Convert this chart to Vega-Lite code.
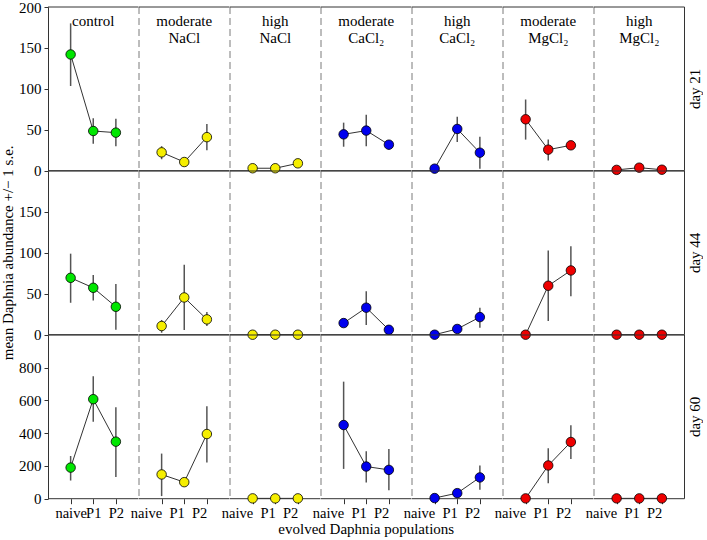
{
  "$schema": "https://vega.github.io/schema/vega-lite/v6.json",
  "padding": {"left": 0, "top": 0, "right": 0, "bottom": 0},
  "data": {"values": [
      {"day": "day 21", "treatment": "control", "pop": "naive", "mean": 142, "lo": 103.5, "hi": 180},
      {"day": "day 21", "treatment": "control", "pop": "P1", "mean": 48.5, "lo": 33, "hi": 64},
      {"day": "day 21", "treatment": "control", "pop": "P2", "mean": 46.5, "lo": 30, "hi": 63.5},
      {"day": "day 21", "treatment": "moderate NaCl", "pop": "naive", "mean": 22.4, "lo": 14, "hi": 30},
      {"day": "day 21", "treatment": "moderate NaCl", "pop": "P1", "mean": 10.6, "lo": 6, "hi": 15},
      {"day": "day 21", "treatment": "moderate NaCl", "pop": "P2", "mean": 41, "lo": 25, "hi": 57},
      {"day": "day 21", "treatment": "high NaCl", "pop": "naive", "mean": 3, "lo": 1, "hi": 5},
      {"day": "day 21", "treatment": "high NaCl", "pop": "P1", "mean": 3, "lo": 1, "hi": 5},
      {"day": "day 21", "treatment": "high NaCl", "pop": "P2", "mean": 9, "lo": 5, "hi": 13},
      {"day": "day 21", "treatment": "moderate CaCl2", "pop": "naive", "mean": 44.4, "lo": 29.3, "hi": 58.7},
      {"day": "day 21", "treatment": "moderate CaCl2", "pop": "P1", "mean": 49, "lo": 30, "hi": 68.5},
      {"day": "day 21", "treatment": "moderate CaCl2", "pop": "P2", "mean": 31.8, "lo": 26, "hi": 37},
      {"day": "day 21", "treatment": "high CaCl2", "pop": "naive", "mean": 2.5, "lo": 0, "hi": 5},
      {"day": "day 21", "treatment": "high CaCl2", "pop": "P1", "mean": 51, "lo": 35, "hi": 66},
      {"day": "day 21", "treatment": "high CaCl2", "pop": "P2", "mean": 22, "lo": 2.5, "hi": 41.5},
      {"day": "day 21", "treatment": "moderate MgCl2", "pop": "naive", "mean": 62.8, "lo": 38, "hi": 87},
      {"day": "day 21", "treatment": "moderate MgCl2", "pop": "P1", "mean": 25.7, "lo": 12.6, "hi": 38},
      {"day": "day 21", "treatment": "moderate MgCl2", "pop": "P2", "mean": 31, "lo": 27, "hi": 35},
      {"day": "day 21", "treatment": "high MgCl2", "pop": "naive", "mean": 1, "lo": 0, "hi": 2},
      {"day": "day 21", "treatment": "high MgCl2", "pop": "P1", "mean": 3.7, "lo": 1, "hi": 6},
      {"day": "day 21", "treatment": "high MgCl2", "pop": "P2", "mean": 1.2, "lo": 0, "hi": 2.5},
      {"day": "day 44", "treatment": "control", "pop": "naive", "mean": 69.5, "lo": 39, "hi": 99},
      {"day": "day 44", "treatment": "control", "pop": "P1", "mean": 57.3, "lo": 41.9, "hi": 72.8},
      {"day": "day 44", "treatment": "control", "pop": "P2", "mean": 34.1, "lo": 6, "hi": 62},
      {"day": "day 44", "treatment": "moderate NaCl", "pop": "naive", "mean": 10.6, "lo": 2.4, "hi": 18},
      {"day": "day 44", "treatment": "moderate NaCl", "pop": "P1", "mean": 45.5, "lo": 5.7, "hi": 85.4},
      {"day": "day 44", "treatment": "moderate NaCl", "pop": "P2", "mean": 18.7, "lo": 10.6, "hi": 27.6},
      {"day": "day 44", "treatment": "high NaCl", "pop": "naive", "mean": 0, "lo": 0, "hi": 0},
      {"day": "day 44", "treatment": "high NaCl", "pop": "P1", "mean": 0, "lo": 0, "hi": 0},
      {"day": "day 44", "treatment": "high NaCl", "pop": "P2", "mean": 0, "lo": 0, "hi": 0},
      {"day": "day 44", "treatment": "moderate CaCl2", "pop": "naive", "mean": 14.2, "lo": 10, "hi": 18},
      {"day": "day 44", "treatment": "moderate CaCl2", "pop": "P1", "mean": 33, "lo": 11.8, "hi": 53},
      {"day": "day 44", "treatment": "moderate CaCl2", "pop": "P2", "mean": 6, "lo": 3, "hi": 9},
      {"day": "day 44", "treatment": "high CaCl2", "pop": "naive", "mean": 0, "lo": 0, "hi": 0},
      {"day": "day 44", "treatment": "high CaCl2", "pop": "P1", "mean": 7, "lo": 3, "hi": 11},
      {"day": "day 44", "treatment": "high CaCl2", "pop": "P2", "mean": 21.5, "lo": 8.5, "hi": 33},
      {"day": "day 44", "treatment": "moderate MgCl2", "pop": "naive", "mean": 0, "lo": 0, "hi": 0},
      {"day": "day 44", "treatment": "moderate MgCl2", "pop": "P1", "mean": 59.8, "lo": 16.7, "hi": 102.8},
      {"day": "day 44", "treatment": "moderate MgCl2", "pop": "P2", "mean": 78.5, "lo": 47, "hi": 108},
      {"day": "day 44", "treatment": "high MgCl2", "pop": "naive", "mean": 0, "lo": 0, "hi": 0},
      {"day": "day 44", "treatment": "high MgCl2", "pop": "P1", "mean": 0, "lo": 0, "hi": 0},
      {"day": "day 44", "treatment": "high MgCl2", "pop": "P2", "mean": 0, "lo": 0, "hi": 0},
      {"day": "day 60", "treatment": "control", "pop": "naive", "mean": 190, "lo": 111, "hi": 261},
      {"day": "day 60", "treatment": "control", "pop": "P1", "mean": 608, "lo": 470, "hi": 748},
      {"day": "day 60", "treatment": "control", "pop": "P2", "mean": 348.5, "lo": 132, "hi": 559},
      {"day": "day 60", "treatment": "moderate NaCl", "pop": "naive", "mean": 148, "lo": 16, "hi": 275.6},
      {"day": "day 60", "treatment": "moderate NaCl", "pop": "P1", "mean": 101, "lo": 80, "hi": 125},
      {"day": "day 60", "treatment": "moderate NaCl", "pop": "P2", "mean": 395, "lo": 221, "hi": 565},
      {"day": "day 60", "treatment": "high NaCl", "pop": "naive", "mean": 2, "lo": 0, "hi": 4},
      {"day": "day 60", "treatment": "high NaCl", "pop": "P1", "mean": 2, "lo": 0, "hi": 4},
      {"day": "day 60", "treatment": "high NaCl", "pop": "P2", "mean": 2, "lo": 0, "hi": 4},
      {"day": "day 60", "treatment": "moderate CaCl2", "pop": "naive", "mean": 450, "lo": 182, "hi": 715},
      {"day": "day 60", "treatment": "moderate CaCl2", "pop": "P1", "mean": 196.5, "lo": 99, "hi": 290},
      {"day": "day 60", "treatment": "moderate CaCl2", "pop": "P2", "mean": 176, "lo": 51, "hi": 304},
      {"day": "day 60", "treatment": "high CaCl2", "pop": "naive", "mean": 4, "lo": 0, "hi": 8},
      {"day": "day 60", "treatment": "high CaCl2", "pop": "P1", "mean": 34, "lo": 10, "hi": 58},
      {"day": "day 60", "treatment": "high CaCl2", "pop": "P2", "mean": 130, "lo": 55, "hi": 203},
      {"day": "day 60", "treatment": "moderate MgCl2", "pop": "naive", "mean": 2, "lo": 0, "hi": 4},
      {"day": "day 60", "treatment": "moderate MgCl2", "pop": "P1", "mean": 203, "lo": 95, "hi": 308},
      {"day": "day 60", "treatment": "moderate MgCl2", "pop": "P2", "mean": 346.5, "lo": 243, "hi": 448},
      {"day": "day 60", "treatment": "high MgCl2", "pop": "naive", "mean": 2, "lo": 0, "hi": 4},
      {"day": "day 60", "treatment": "high MgCl2", "pop": "P1", "mean": 2, "lo": 0, "hi": 4},
      {"day": "day 60", "treatment": "high MgCl2", "pop": "P2", "mean": 2, "lo": 0, "hi": 4}
  ]},
  "columns": 7,
  "spacing": 0,
  "bounds": "flush",
  "concat": [
    {"width": 90.5, "height": 163.7, "transform": [{"filter": "datum.day == 'day 21' && datum.treatment == 'control'"}], "layer": [
      {"mark": {"type": "rule", "color": "#555", "strokeWidth": 1.5}, "encoding": {"x": {"field": "pop", "type": "nominal", "scale": {"type": "point", "padding": 0, "domain": ["left", "naive", "P1", "P2", "right"]}, "axis": null}, "y": {"field": "lo", "type": "quantitative", "scale": {"domain": [0, 200], "nice": false}, "axis": {"values": [0, 50, 100, 150, 200]}}, "y2": {"field": "hi"}}},
      {"mark": {"type": "line", "color": "#333", "strokeWidth": 1}, "encoding": {"x": {"field": "pop", "type": "nominal", "axis": null}, "y": {"field": "mean", "type": "quantitative"}}},
      {"data": {"values": [{}]}, "mark": {"type": "rule", "color": "#333", "strokeWidth": 1}, "encoding": {"y": {"datum": 0, "type": "quantitative"}}},
      {"data": {"values": [{}]}, "mark": {"type": "rule", "color": "#333", "strokeWidth": 1}, "encoding": {"y": {"datum": 200, "type": "quantitative"}}},
      {"mark": {"type": "circle", "size": 90, "opacity": 1, "fill": "#00e600", "stroke": "#000", "strokeWidth": 0.8}, "encoding": {"x": {"field": "pop", "type": "nominal", "axis": null}, "y": {"field": "mean", "type": "quantitative"}}},
      {"data": {"values": [{}]}, "mark": {"type": "text", "text": ["control"], "baseline": "top", "dy": 6.5, "lineHeight": 17.5, "fontSize": 15, "font": "Liberation Serif", "color": "#000"}, "encoding": {"x": {"datum": "P1", "type": "nominal", "axis": null}, "y": {"datum": 200, "type": "quantitative"}}}
    ]},
    {"width": 90.5, "height": 163.7, "transform": [{"filter": "datum.day == 'day 21' && datum.treatment == 'moderate NaCl'"}], "layer": [
      {"data": {"values": [{}]}, "mark": {"type": "rule", "color": "#7a7a7a", "strokeDash": [7, 4], "strokeWidth": 1}, "encoding": {"x": {"datum": "left", "type": "nominal", "scale": {"type": "point", "padding": 0, "domain": ["left", "naive", "P1", "P2", "right"]}, "axis": null}}},
      {"mark": {"type": "rule", "color": "#555", "strokeWidth": 1.5}, "encoding": {"x": {"field": "pop", "type": "nominal", "axis": null}, "y": {"field": "lo", "type": "quantitative", "scale": {"domain": [0, 200], "nice": false}, "axis": null}, "y2": {"field": "hi"}}},
      {"mark": {"type": "line", "color": "#333", "strokeWidth": 1}, "encoding": {"x": {"field": "pop", "type": "nominal", "axis": null}, "y": {"field": "mean", "type": "quantitative", "axis": null}}},
      {"data": {"values": [{}]}, "mark": {"type": "rule", "color": "#333", "strokeWidth": 1}, "encoding": {"y": {"datum": 0, "type": "quantitative", "axis": null}}},
      {"data": {"values": [{}]}, "mark": {"type": "rule", "color": "#333", "strokeWidth": 1}, "encoding": {"y": {"datum": 200, "type": "quantitative", "axis": null}}},
      {"mark": {"type": "circle", "size": 90, "opacity": 1, "fill": "#f5ee00", "stroke": "#000", "strokeWidth": 0.8}, "encoding": {"x": {"field": "pop", "type": "nominal", "axis": null}, "y": {"field": "mean", "type": "quantitative", "axis": null}}},
      {"data": {"values": [{}]}, "mark": {"type": "text", "text": ["moderate", "NaCl"], "baseline": "top", "dy": 6.5, "lineHeight": 17.5, "fontSize": 15, "font": "Liberation Serif", "color": "#000"}, "encoding": {"x": {"datum": "P1", "type": "nominal", "axis": null}, "y": {"datum": 200, "type": "quantitative", "axis": null}}}
    ]},
    {"width": 90.5, "height": 163.7, "transform": [{"filter": "datum.day == 'day 21' && datum.treatment == 'high NaCl'"}], "layer": [
      {"data": {"values": [{}]}, "mark": {"type": "rule", "color": "#7a7a7a", "strokeDash": [7, 4], "strokeWidth": 1}, "encoding": {"x": {"datum": "left", "type": "nominal", "scale": {"type": "point", "padding": 0, "domain": ["left", "naive", "P1", "P2", "right"]}, "axis": null}}},
      {"mark": {"type": "rule", "color": "#555", "strokeWidth": 1.5}, "encoding": {"x": {"field": "pop", "type": "nominal", "axis": null}, "y": {"field": "lo", "type": "quantitative", "scale": {"domain": [0, 200], "nice": false}, "axis": null}, "y2": {"field": "hi"}}},
      {"mark": {"type": "line", "color": "#333", "strokeWidth": 1}, "encoding": {"x": {"field": "pop", "type": "nominal", "axis": null}, "y": {"field": "mean", "type": "quantitative", "axis": null}}},
      {"data": {"values": [{}]}, "mark": {"type": "rule", "color": "#333", "strokeWidth": 1}, "encoding": {"y": {"datum": 0, "type": "quantitative", "axis": null}}},
      {"data": {"values": [{}]}, "mark": {"type": "rule", "color": "#333", "strokeWidth": 1}, "encoding": {"y": {"datum": 200, "type": "quantitative", "axis": null}}},
      {"mark": {"type": "circle", "size": 90, "opacity": 1, "fill": "#f5ee00", "stroke": "#000", "strokeWidth": 0.8}, "encoding": {"x": {"field": "pop", "type": "nominal", "axis": null}, "y": {"field": "mean", "type": "quantitative", "axis": null}}},
      {"data": {"values": [{}]}, "mark": {"type": "text", "text": ["high", "NaCl"], "baseline": "top", "dy": 6.5, "lineHeight": 17.5, "fontSize": 15, "font": "Liberation Serif", "color": "#000"}, "encoding": {"x": {"datum": "P1", "type": "nominal", "axis": null}, "y": {"datum": 200, "type": "quantitative", "axis": null}}}
    ]},
    {"width": 90.5, "height": 163.7, "transform": [{"filter": "datum.day == 'day 21' && datum.treatment == 'moderate CaCl2'"}], "layer": [
      {"data": {"values": [{}]}, "mark": {"type": "rule", "color": "#7a7a7a", "strokeDash": [7, 4], "strokeWidth": 1}, "encoding": {"x": {"datum": "left", "type": "nominal", "scale": {"type": "point", "padding": 0, "domain": ["left", "naive", "P1", "P2", "right"]}, "axis": null}}},
      {"mark": {"type": "rule", "color": "#555", "strokeWidth": 1.5}, "encoding": {"x": {"field": "pop", "type": "nominal", "axis": null}, "y": {"field": "lo", "type": "quantitative", "scale": {"domain": [0, 200], "nice": false}, "axis": null}, "y2": {"field": "hi"}}},
      {"mark": {"type": "line", "color": "#333", "strokeWidth": 1}, "encoding": {"x": {"field": "pop", "type": "nominal", "axis": null}, "y": {"field": "mean", "type": "quantitative", "axis": null}}},
      {"data": {"values": [{}]}, "mark": {"type": "rule", "color": "#333", "strokeWidth": 1}, "encoding": {"y": {"datum": 0, "type": "quantitative", "axis": null}}},
      {"data": {"values": [{}]}, "mark": {"type": "rule", "color": "#333", "strokeWidth": 1}, "encoding": {"y": {"datum": 200, "type": "quantitative", "axis": null}}},
      {"mark": {"type": "circle", "size": 90, "opacity": 1, "fill": "#0000ee", "stroke": "#000", "strokeWidth": 0.8}, "encoding": {"x": {"field": "pop", "type": "nominal", "axis": null}, "y": {"field": "mean", "type": "quantitative", "axis": null}}},
      {"data": {"values": [{}]}, "mark": {"type": "text", "text": ["moderate", "CaCl₂"], "baseline": "top", "dy": 6.5, "lineHeight": 17.5, "fontSize": 15, "font": "Liberation Serif", "color": "#000"}, "encoding": {"x": {"datum": "P1", "type": "nominal", "axis": null}, "y": {"datum": 200, "type": "quantitative", "axis": null}}}
    ]},
    {"width": 90.5, "height": 163.7, "transform": [{"filter": "datum.day == 'day 21' && datum.treatment == 'high CaCl2'"}], "layer": [
      {"data": {"values": [{}]}, "mark": {"type": "rule", "color": "#7a7a7a", "strokeDash": [7, 4], "strokeWidth": 1}, "encoding": {"x": {"datum": "left", "type": "nominal", "scale": {"type": "point", "padding": 0, "domain": ["left", "naive", "P1", "P2", "right"]}, "axis": null}}},
      {"mark": {"type": "rule", "color": "#555", "strokeWidth": 1.5}, "encoding": {"x": {"field": "pop", "type": "nominal", "axis": null}, "y": {"field": "lo", "type": "quantitative", "scale": {"domain": [0, 200], "nice": false}, "axis": null}, "y2": {"field": "hi"}}},
      {"mark": {"type": "line", "color": "#333", "strokeWidth": 1}, "encoding": {"x": {"field": "pop", "type": "nominal", "axis": null}, "y": {"field": "mean", "type": "quantitative", "axis": null}}},
      {"data": {"values": [{}]}, "mark": {"type": "rule", "color": "#333", "strokeWidth": 1}, "encoding": {"y": {"datum": 0, "type": "quantitative", "axis": null}}},
      {"data": {"values": [{}]}, "mark": {"type": "rule", "color": "#333", "strokeWidth": 1}, "encoding": {"y": {"datum": 200, "type": "quantitative", "axis": null}}},
      {"mark": {"type": "circle", "size": 90, "opacity": 1, "fill": "#0000ee", "stroke": "#000", "strokeWidth": 0.8}, "encoding": {"x": {"field": "pop", "type": "nominal", "axis": null}, "y": {"field": "mean", "type": "quantitative", "axis": null}}},
      {"data": {"values": [{}]}, "mark": {"type": "text", "text": ["high", "CaCl₂"], "baseline": "top", "dy": 6.5, "lineHeight": 17.5, "fontSize": 15, "font": "Liberation Serif", "color": "#000"}, "encoding": {"x": {"datum": "P1", "type": "nominal", "axis": null}, "y": {"datum": 200, "type": "quantitative", "axis": null}}}
    ]},
    {"width": 90.5, "height": 163.7, "transform": [{"filter": "datum.day == 'day 21' && datum.treatment == 'moderate MgCl2'"}], "layer": [
      {"data": {"values": [{}]}, "mark": {"type": "rule", "color": "#7a7a7a", "strokeDash": [7, 4], "strokeWidth": 1}, "encoding": {"x": {"datum": "left", "type": "nominal", "scale": {"type": "point", "padding": 0, "domain": ["left", "naive", "P1", "P2", "right"]}, "axis": null}}},
      {"mark": {"type": "rule", "color": "#555", "strokeWidth": 1.5}, "encoding": {"x": {"field": "pop", "type": "nominal", "axis": null}, "y": {"field": "lo", "type": "quantitative", "scale": {"domain": [0, 200], "nice": false}, "axis": null}, "y2": {"field": "hi"}}},
      {"mark": {"type": "line", "color": "#333", "strokeWidth": 1}, "encoding": {"x": {"field": "pop", "type": "nominal", "axis": null}, "y": {"field": "mean", "type": "quantitative", "axis": null}}},
      {"data": {"values": [{}]}, "mark": {"type": "rule", "color": "#333", "strokeWidth": 1}, "encoding": {"y": {"datum": 0, "type": "quantitative", "axis": null}}},
      {"data": {"values": [{}]}, "mark": {"type": "rule", "color": "#333", "strokeWidth": 1}, "encoding": {"y": {"datum": 200, "type": "quantitative", "axis": null}}},
      {"mark": {"type": "circle", "size": 90, "opacity": 1, "fill": "#ee0000", "stroke": "#000", "strokeWidth": 0.8}, "encoding": {"x": {"field": "pop", "type": "nominal", "axis": null}, "y": {"field": "mean", "type": "quantitative", "axis": null}}},
      {"data": {"values": [{}]}, "mark": {"type": "text", "text": ["moderate", "MgCl₂"], "baseline": "top", "dy": 6.5, "lineHeight": 17.5, "fontSize": 15, "font": "Liberation Serif", "color": "#000"}, "encoding": {"x": {"datum": "P1", "type": "nominal", "axis": null}, "y": {"datum": 200, "type": "quantitative", "axis": null}}}
    ]},
    {"width": 90.5, "height": 163.7, "transform": [{"filter": "datum.day == 'day 21' && datum.treatment == 'high MgCl2'"}],
     "title": {"text": "day 21", "orient": "right", "angle": -90, "anchor": "middle", "font": "Liberation Serif", "fontSize": 15, "fontWeight": "normal", "color": "#000", "offset": -12},
     "layer": [
      {"data": {"values": [{}]}, "mark": {"type": "rule", "color": "#7a7a7a", "strokeDash": [7, 4], "strokeWidth": 1}, "encoding": {"x": {"datum": "left", "type": "nominal", "scale": {"type": "point", "padding": 0, "domain": ["left", "naive", "P1", "P2", "right"]}, "axis": null}}},
      {"data": {"values": [{}]}, "mark": {"type": "rule", "color": "#333", "strokeWidth": 1}, "encoding": {"x": {"datum": "right", "type": "nominal", "axis": null}}},
      {"mark": {"type": "rule", "color": "#555", "strokeWidth": 1.5}, "encoding": {"x": {"field": "pop", "type": "nominal", "axis": null}, "y": {"field": "lo", "type": "quantitative", "scale": {"domain": [0, 200], "nice": false}, "axis": null}, "y2": {"field": "hi"}}},
      {"mark": {"type": "line", "color": "#333", "strokeWidth": 1}, "encoding": {"x": {"field": "pop", "type": "nominal", "axis": null}, "y": {"field": "mean", "type": "quantitative", "axis": null}}},
      {"data": {"values": [{}]}, "mark": {"type": "rule", "color": "#333", "strokeWidth": 1}, "encoding": {"y": {"datum": 0, "type": "quantitative", "axis": null}}},
      {"data": {"values": [{}]}, "mark": {"type": "rule", "color": "#333", "strokeWidth": 1}, "encoding": {"y": {"datum": 200, "type": "quantitative", "axis": null}}},
      {"mark": {"type": "circle", "size": 90, "opacity": 1, "fill": "#ee0000", "stroke": "#000", "strokeWidth": 0.8}, "encoding": {"x": {"field": "pop", "type": "nominal", "axis": null}, "y": {"field": "mean", "type": "quantitative", "axis": null}}},
      {"data": {"values": [{}]}, "mark": {"type": "text", "text": ["high", "MgCl₂"], "baseline": "top", "dy": 6.5, "lineHeight": 17.5, "fontSize": 15, "font": "Liberation Serif", "color": "#000"}, "encoding": {"x": {"datum": "P1", "type": "nominal", "axis": null}, "y": {"datum": 200, "type": "quantitative", "axis": null}}}
    ]},

    {"width": 90.5, "height": 163.7, "transform": [{"filter": "datum.day == 'day 44' && datum.treatment == 'control'"}],
     "title": {"text": "mean Daphnia abundance +/− 1 s.e.", "orient": "left", "anchor": "middle", "font": "Liberation Serif", "fontSize": 15, "fontWeight": "normal", "color": "#000", "offset": 3},
     "layer": [
      {"mark": {"type": "rule", "color": "#555", "strokeWidth": 1.5}, "encoding": {"x": {"field": "pop", "type": "nominal", "scale": {"type": "point", "padding": 0, "domain": ["left", "naive", "P1", "P2", "right"]}, "axis": null}, "y": {"field": "lo", "type": "quantitative", "scale": {"domain": [0, 200], "nice": false}, "axis": {"values": [0, 50, 100, 150]}}, "y2": {"field": "hi"}}},
      {"mark": {"type": "line", "color": "#333", "strokeWidth": 1}, "encoding": {"x": {"field": "pop", "type": "nominal", "axis": null}, "y": {"field": "mean", "type": "quantitative"}}},
      {"data": {"values": [{}]}, "mark": {"type": "rule", "color": "#333", "strokeWidth": 1}, "encoding": {"y": {"datum": 0, "type": "quantitative"}}},
      {"data": {"values": [{}]}, "mark": {"type": "rule", "color": "#333", "strokeWidth": 1}, "encoding": {"y": {"datum": 200, "type": "quantitative"}}},
      {"mark": {"type": "circle", "size": 90, "opacity": 1, "fill": "#00e600", "stroke": "#000", "strokeWidth": 0.8}, "encoding": {"x": {"field": "pop", "type": "nominal", "axis": null}, "y": {"field": "mean", "type": "quantitative"}}}
    ]},
    {"width": 90.5, "height": 163.7, "transform": [{"filter": "datum.day == 'day 44' && datum.treatment == 'moderate NaCl'"}], "layer": [
      {"data": {"values": [{}]}, "mark": {"type": "rule", "color": "#7a7a7a", "strokeDash": [7, 4], "strokeWidth": 1}, "encoding": {"x": {"datum": "left", "type": "nominal", "scale": {"type": "point", "padding": 0, "domain": ["left", "naive", "P1", "P2", "right"]}, "axis": null}}},
      {"mark": {"type": "rule", "color": "#555", "strokeWidth": 1.5}, "encoding": {"x": {"field": "pop", "type": "nominal", "axis": null}, "y": {"field": "lo", "type": "quantitative", "scale": {"domain": [0, 200], "nice": false}, "axis": null}, "y2": {"field": "hi"}}},
      {"mark": {"type": "line", "color": "#333", "strokeWidth": 1}, "encoding": {"x": {"field": "pop", "type": "nominal", "axis": null}, "y": {"field": "mean", "type": "quantitative", "axis": null}}},
      {"data": {"values": [{}]}, "mark": {"type": "rule", "color": "#333", "strokeWidth": 1}, "encoding": {"y": {"datum": 0, "type": "quantitative", "axis": null}}},
      {"data": {"values": [{}]}, "mark": {"type": "rule", "color": "#333", "strokeWidth": 1}, "encoding": {"y": {"datum": 200, "type": "quantitative", "axis": null}}},
      {"mark": {"type": "circle", "size": 90, "opacity": 1, "fill": "#f5ee00", "stroke": "#000", "strokeWidth": 0.8}, "encoding": {"x": {"field": "pop", "type": "nominal", "axis": null}, "y": {"field": "mean", "type": "quantitative", "axis": null}}}
    ]},
    {"width": 90.5, "height": 163.7, "transform": [{"filter": "datum.day == 'day 44' && datum.treatment == 'high NaCl'"}], "layer": [
      {"data": {"values": [{}]}, "mark": {"type": "rule", "color": "#7a7a7a", "strokeDash": [7, 4], "strokeWidth": 1}, "encoding": {"x": {"datum": "left", "type": "nominal", "scale": {"type": "point", "padding": 0, "domain": ["left", "naive", "P1", "P2", "right"]}, "axis": null}}},
      {"mark": {"type": "rule", "color": "#555", "strokeWidth": 1.5}, "encoding": {"x": {"field": "pop", "type": "nominal", "axis": null}, "y": {"field": "lo", "type": "quantitative", "scale": {"domain": [0, 200], "nice": false}, "axis": null}, "y2": {"field": "hi"}}},
      {"mark": {"type": "line", "color": "#333", "strokeWidth": 1}, "encoding": {"x": {"field": "pop", "type": "nominal", "axis": null}, "y": {"field": "mean", "type": "quantitative", "axis": null}}},
      {"data": {"values": [{}]}, "mark": {"type": "rule", "color": "#333", "strokeWidth": 1}, "encoding": {"y": {"datum": 0, "type": "quantitative", "axis": null}}},
      {"data": {"values": [{}]}, "mark": {"type": "rule", "color": "#333", "strokeWidth": 1}, "encoding": {"y": {"datum": 200, "type": "quantitative", "axis": null}}},
      {"mark": {"type": "circle", "size": 90, "opacity": 1, "fill": "#f5ee00", "stroke": "#000", "strokeWidth": 0.8}, "encoding": {"x": {"field": "pop", "type": "nominal", "axis": null}, "y": {"field": "mean", "type": "quantitative", "axis": null}}}
    ]},
    {"width": 90.5, "height": 163.7, "transform": [{"filter": "datum.day == 'day 44' && datum.treatment == 'moderate CaCl2'"}], "layer": [
      {"data": {"values": [{}]}, "mark": {"type": "rule", "color": "#7a7a7a", "strokeDash": [7, 4], "strokeWidth": 1}, "encoding": {"x": {"datum": "left", "type": "nominal", "scale": {"type": "point", "padding": 0, "domain": ["left", "naive", "P1", "P2", "right"]}, "axis": null}}},
      {"mark": {"type": "rule", "color": "#555", "strokeWidth": 1.5}, "encoding": {"x": {"field": "pop", "type": "nominal", "axis": null}, "y": {"field": "lo", "type": "quantitative", "scale": {"domain": [0, 200], "nice": false}, "axis": null}, "y2": {"field": "hi"}}},
      {"mark": {"type": "line", "color": "#333", "strokeWidth": 1}, "encoding": {"x": {"field": "pop", "type": "nominal", "axis": null}, "y": {"field": "mean", "type": "quantitative", "axis": null}}},
      {"data": {"values": [{}]}, "mark": {"type": "rule", "color": "#333", "strokeWidth": 1}, "encoding": {"y": {"datum": 0, "type": "quantitative", "axis": null}}},
      {"data": {"values": [{}]}, "mark": {"type": "rule", "color": "#333", "strokeWidth": 1}, "encoding": {"y": {"datum": 200, "type": "quantitative", "axis": null}}},
      {"mark": {"type": "circle", "size": 90, "opacity": 1, "fill": "#0000ee", "stroke": "#000", "strokeWidth": 0.8}, "encoding": {"x": {"field": "pop", "type": "nominal", "axis": null}, "y": {"field": "mean", "type": "quantitative", "axis": null}}}
    ]},
    {"width": 90.5, "height": 163.7, "transform": [{"filter": "datum.day == 'day 44' && datum.treatment == 'high CaCl2'"}], "layer": [
      {"data": {"values": [{}]}, "mark": {"type": "rule", "color": "#7a7a7a", "strokeDash": [7, 4], "strokeWidth": 1}, "encoding": {"x": {"datum": "left", "type": "nominal", "scale": {"type": "point", "padding": 0, "domain": ["left", "naive", "P1", "P2", "right"]}, "axis": null}}},
      {"mark": {"type": "rule", "color": "#555", "strokeWidth": 1.5}, "encoding": {"x": {"field": "pop", "type": "nominal", "axis": null}, "y": {"field": "lo", "type": "quantitative", "scale": {"domain": [0, 200], "nice": false}, "axis": null}, "y2": {"field": "hi"}}},
      {"mark": {"type": "line", "color": "#333", "strokeWidth": 1}, "encoding": {"x": {"field": "pop", "type": "nominal", "axis": null}, "y": {"field": "mean", "type": "quantitative", "axis": null}}},
      {"data": {"values": [{}]}, "mark": {"type": "rule", "color": "#333", "strokeWidth": 1}, "encoding": {"y": {"datum": 0, "type": "quantitative", "axis": null}}},
      {"data": {"values": [{}]}, "mark": {"type": "rule", "color": "#333", "strokeWidth": 1}, "encoding": {"y": {"datum": 200, "type": "quantitative", "axis": null}}},
      {"mark": {"type": "circle", "size": 90, "opacity": 1, "fill": "#0000ee", "stroke": "#000", "strokeWidth": 0.8}, "encoding": {"x": {"field": "pop", "type": "nominal", "axis": null}, "y": {"field": "mean", "type": "quantitative", "axis": null}}}
    ]},
    {"width": 90.5, "height": 163.7, "transform": [{"filter": "datum.day == 'day 44' && datum.treatment == 'moderate MgCl2'"}], "layer": [
      {"data": {"values": [{}]}, "mark": {"type": "rule", "color": "#7a7a7a", "strokeDash": [7, 4], "strokeWidth": 1}, "encoding": {"x": {"datum": "left", "type": "nominal", "scale": {"type": "point", "padding": 0, "domain": ["left", "naive", "P1", "P2", "right"]}, "axis": null}}},
      {"mark": {"type": "rule", "color": "#555", "strokeWidth": 1.5}, "encoding": {"x": {"field": "pop", "type": "nominal", "axis": null}, "y": {"field": "lo", "type": "quantitative", "scale": {"domain": [0, 200], "nice": false}, "axis": null}, "y2": {"field": "hi"}}},
      {"mark": {"type": "line", "color": "#333", "strokeWidth": 1}, "encoding": {"x": {"field": "pop", "type": "nominal", "axis": null}, "y": {"field": "mean", "type": "quantitative", "axis": null}}},
      {"data": {"values": [{}]}, "mark": {"type": "rule", "color": "#333", "strokeWidth": 1}, "encoding": {"y": {"datum": 0, "type": "quantitative", "axis": null}}},
      {"data": {"values": [{}]}, "mark": {"type": "rule", "color": "#333", "strokeWidth": 1}, "encoding": {"y": {"datum": 200, "type": "quantitative", "axis": null}}},
      {"mark": {"type": "circle", "size": 90, "opacity": 1, "fill": "#ee0000", "stroke": "#000", "strokeWidth": 0.8}, "encoding": {"x": {"field": "pop", "type": "nominal", "axis": null}, "y": {"field": "mean", "type": "quantitative", "axis": null}}}
    ]},
    {"width": 90.5, "height": 163.7, "transform": [{"filter": "datum.day == 'day 44' && datum.treatment == 'high MgCl2'"}],
     "title": {"text": "day 44", "orient": "right", "angle": -90, "anchor": "middle", "font": "Liberation Serif", "fontSize": 15, "fontWeight": "normal", "color": "#000", "offset": -12},
     "layer": [
      {"data": {"values": [{}]}, "mark": {"type": "rule", "color": "#7a7a7a", "strokeDash": [7, 4], "strokeWidth": 1}, "encoding": {"x": {"datum": "left", "type": "nominal", "scale": {"type": "point", "padding": 0, "domain": ["left", "naive", "P1", "P2", "right"]}, "axis": null}}},
      {"data": {"values": [{}]}, "mark": {"type": "rule", "color": "#333", "strokeWidth": 1}, "encoding": {"x": {"datum": "right", "type": "nominal", "axis": null}}},
      {"mark": {"type": "rule", "color": "#555", "strokeWidth": 1.5}, "encoding": {"x": {"field": "pop", "type": "nominal", "axis": null}, "y": {"field": "lo", "type": "quantitative", "scale": {"domain": [0, 200], "nice": false}, "axis": null}, "y2": {"field": "hi"}}},
      {"mark": {"type": "line", "color": "#333", "strokeWidth": 1}, "encoding": {"x": {"field": "pop", "type": "nominal", "axis": null}, "y": {"field": "mean", "type": "quantitative", "axis": null}}},
      {"data": {"values": [{}]}, "mark": {"type": "rule", "color": "#333", "strokeWidth": 1}, "encoding": {"y": {"datum": 0, "type": "quantitative", "axis": null}}},
      {"data": {"values": [{}]}, "mark": {"type": "rule", "color": "#333", "strokeWidth": 1}, "encoding": {"y": {"datum": 200, "type": "quantitative", "axis": null}}},
      {"mark": {"type": "circle", "size": 90, "opacity": 1, "fill": "#ee0000", "stroke": "#000", "strokeWidth": 0.8}, "encoding": {"x": {"field": "pop", "type": "nominal", "axis": null}, "y": {"field": "mean", "type": "quantitative", "axis": null}}}
    ]},

    {"width": 90.5, "height": 163.7, "transform": [{"filter": "datum.day == 'day 60' && datum.treatment == 'control'"}], "layer": [
      {"mark": {"type": "rule", "color": "#555", "strokeWidth": 1.5}, "encoding": {"x": {"field": "pop", "type": "nominal", "scale": {"type": "point", "padding": 0, "domain": ["left", "naive", "P1", "P2", "right"]}, "axis": {"values": ["naive", "P1", "P2"], "labelAngle": 0, "domain": false, "labelBaseline": "top"}}, "y": {"field": "lo", "type": "quantitative", "scale": {"domain": [0, 1000], "nice": false}, "axis": {"values": [0, 200, 400, 600, 800]}}, "y2": {"field": "hi"}}},
      {"mark": {"type": "line", "color": "#333", "strokeWidth": 1}, "encoding": {"x": {"field": "pop", "type": "nominal"}, "y": {"field": "mean", "type": "quantitative"}}},
      {"data": {"values": [{}]}, "mark": {"type": "rule", "color": "#333", "strokeWidth": 1}, "encoding": {"y": {"datum": 0, "type": "quantitative"}}},
      {"data": {"values": [{}]}, "mark": {"type": "rule", "color": "#333", "strokeWidth": 1}, "encoding": {"y": {"datum": 1000, "type": "quantitative"}}},
      {"mark": {"type": "circle", "size": 90, "opacity": 1, "fill": "#00e600", "stroke": "#000", "strokeWidth": 0.8}, "encoding": {"x": {"field": "pop", "type": "nominal"}, "y": {"field": "mean", "type": "quantitative"}}}
    ]},
    {"width": 90.5, "height": 163.7, "transform": [{"filter": "datum.day == 'day 60' && datum.treatment == 'moderate NaCl'"}], "layer": [
      {"data": {"values": [{}]}, "mark": {"type": "rule", "color": "#7a7a7a", "strokeDash": [7, 4], "strokeWidth": 1}, "encoding": {"x": {"datum": "left", "type": "nominal", "scale": {"type": "point", "padding": 0, "domain": ["left", "naive", "P1", "P2", "right"]}}}},
      {"mark": {"type": "rule", "color": "#555", "strokeWidth": 1.5}, "encoding": {"x": {"field": "pop", "type": "nominal", "axis": {"values": ["naive", "P1", "P2"], "labelAngle": 0, "domain": false, "labelBaseline": "top"}}, "y": {"field": "lo", "type": "quantitative", "scale": {"domain": [0, 1000], "nice": false}, "axis": null}, "y2": {"field": "hi"}}},
      {"mark": {"type": "line", "color": "#333", "strokeWidth": 1}, "encoding": {"x": {"field": "pop", "type": "nominal"}, "y": {"field": "mean", "type": "quantitative", "axis": null}}},
      {"data": {"values": [{}]}, "mark": {"type": "rule", "color": "#333", "strokeWidth": 1}, "encoding": {"y": {"datum": 0, "type": "quantitative", "axis": null}}},
      {"data": {"values": [{}]}, "mark": {"type": "rule", "color": "#333", "strokeWidth": 1}, "encoding": {"y": {"datum": 1000, "type": "quantitative", "axis": null}}},
      {"mark": {"type": "circle", "size": 90, "opacity": 1, "fill": "#f5ee00", "stroke": "#000", "strokeWidth": 0.8}, "encoding": {"x": {"field": "pop", "type": "nominal"}, "y": {"field": "mean", "type": "quantitative", "axis": null}}}
    ]},
    {"width": 90.5, "height": 163.7, "transform": [{"filter": "datum.day == 'day 60' && datum.treatment == 'high NaCl'"}], "layer": [
      {"data": {"values": [{}]}, "mark": {"type": "rule", "color": "#7a7a7a", "strokeDash": [7, 4], "strokeWidth": 1}, "encoding": {"x": {"datum": "left", "type": "nominal", "scale": {"type": "point", "padding": 0, "domain": ["left", "naive", "P1", "P2", "right"]}}}},
      {"mark": {"type": "rule", "color": "#555", "strokeWidth": 1.5}, "encoding": {"x": {"field": "pop", "type": "nominal", "axis": {"values": ["naive", "P1", "P2"], "labelAngle": 0, "domain": false, "labelBaseline": "top"}}, "y": {"field": "lo", "type": "quantitative", "scale": {"domain": [0, 1000], "nice": false}, "axis": null}, "y2": {"field": "hi"}}},
      {"mark": {"type": "line", "color": "#333", "strokeWidth": 1}, "encoding": {"x": {"field": "pop", "type": "nominal"}, "y": {"field": "mean", "type": "quantitative", "axis": null}}},
      {"data": {"values": [{}]}, "mark": {"type": "rule", "color": "#333", "strokeWidth": 1}, "encoding": {"y": {"datum": 0, "type": "quantitative", "axis": null}}},
      {"data": {"values": [{}]}, "mark": {"type": "rule", "color": "#333", "strokeWidth": 1}, "encoding": {"y": {"datum": 1000, "type": "quantitative", "axis": null}}},
      {"mark": {"type": "circle", "size": 90, "opacity": 1, "fill": "#f5ee00", "stroke": "#000", "strokeWidth": 0.8}, "encoding": {"x": {"field": "pop", "type": "nominal"}, "y": {"field": "mean", "type": "quantitative", "axis": null}}}
    ]},
    {"width": 90.5, "height": 163.7, "transform": [{"filter": "datum.day == 'day 60' && datum.treatment == 'moderate CaCl2'"}],
     "title": {"text": "evolved Daphnia populations", "orient": "bottom", "anchor": "middle", "font": "Liberation Serif", "fontSize": 15, "fontWeight": "normal", "color": "#000", "offset": 2},
     "layer": [
      {"data": {"values": [{}]}, "mark": {"type": "rule", "color": "#7a7a7a", "strokeDash": [7, 4], "strokeWidth": 1}, "encoding": {"x": {"datum": "left", "type": "nominal", "scale": {"type": "point", "padding": 0, "domain": ["left", "naive", "P1", "P2", "right"]}}}},
      {"mark": {"type": "rule", "color": "#555", "strokeWidth": 1.5}, "encoding": {"x": {"field": "pop", "type": "nominal", "axis": {"values": ["naive", "P1", "P2"], "labelAngle": 0, "domain": false, "labelBaseline": "top"}}, "y": {"field": "lo", "type": "quantitative", "scale": {"domain": [0, 1000], "nice": false}, "axis": null}, "y2": {"field": "hi"}}},
      {"mark": {"type": "line", "color": "#333", "strokeWidth": 1}, "encoding": {"x": {"field": "pop", "type": "nominal"}, "y": {"field": "mean", "type": "quantitative", "axis": null}}},
      {"data": {"values": [{}]}, "mark": {"type": "rule", "color": "#333", "strokeWidth": 1}, "encoding": {"y": {"datum": 0, "type": "quantitative", "axis": null}}},
      {"data": {"values": [{}]}, "mark": {"type": "rule", "color": "#333", "strokeWidth": 1}, "encoding": {"y": {"datum": 1000, "type": "quantitative", "axis": null}}},
      {"mark": {"type": "circle", "size": 90, "opacity": 1, "fill": "#0000ee", "stroke": "#000", "strokeWidth": 0.8}, "encoding": {"x": {"field": "pop", "type": "nominal"}, "y": {"field": "mean", "type": "quantitative", "axis": null}}}
    ]},
    {"width": 90.5, "height": 163.7, "transform": [{"filter": "datum.day == 'day 60' && datum.treatment == 'high CaCl2'"}], "layer": [
      {"data": {"values": [{}]}, "mark": {"type": "rule", "color": "#7a7a7a", "strokeDash": [7, 4], "strokeWidth": 1}, "encoding": {"x": {"datum": "left", "type": "nominal", "scale": {"type": "point", "padding": 0, "domain": ["left", "naive", "P1", "P2", "right"]}}}},
      {"mark": {"type": "rule", "color": "#555", "strokeWidth": 1.5}, "encoding": {"x": {"field": "pop", "type": "nominal", "axis": {"values": ["naive", "P1", "P2"], "labelAngle": 0, "domain": false, "labelBaseline": "top"}}, "y": {"field": "lo", "type": "quantitative", "scale": {"domain": [0, 1000], "nice": false}, "axis": null}, "y2": {"field": "hi"}}},
      {"mark": {"type": "line", "color": "#333", "strokeWidth": 1}, "encoding": {"x": {"field": "pop", "type": "nominal"}, "y": {"field": "mean", "type": "quantitative", "axis": null}}},
      {"data": {"values": [{}]}, "mark": {"type": "rule", "color": "#333", "strokeWidth": 1}, "encoding": {"y": {"datum": 0, "type": "quantitative", "axis": null}}},
      {"data": {"values": [{}]}, "mark": {"type": "rule", "color": "#333", "strokeWidth": 1}, "encoding": {"y": {"datum": 1000, "type": "quantitative", "axis": null}}},
      {"mark": {"type": "circle", "size": 90, "opacity": 1, "fill": "#0000ee", "stroke": "#000", "strokeWidth": 0.8}, "encoding": {"x": {"field": "pop", "type": "nominal"}, "y": {"field": "mean", "type": "quantitative", "axis": null}}}
    ]},
    {"width": 90.5, "height": 163.7, "transform": [{"filter": "datum.day == 'day 60' && datum.treatment == 'moderate MgCl2'"}], "layer": [
      {"data": {"values": [{}]}, "mark": {"type": "rule", "color": "#7a7a7a", "strokeDash": [7, 4], "strokeWidth": 1}, "encoding": {"x": {"datum": "left", "type": "nominal", "scale": {"type": "point", "padding": 0, "domain": ["left", "naive", "P1", "P2", "right"]}}}},
      {"mark": {"type": "rule", "color": "#555", "strokeWidth": 1.5}, "encoding": {"x": {"field": "pop", "type": "nominal", "axis": {"values": ["naive", "P1", "P2"], "labelAngle": 0, "domain": false, "labelBaseline": "top"}}, "y": {"field": "lo", "type": "quantitative", "scale": {"domain": [0, 1000], "nice": false}, "axis": null}, "y2": {"field": "hi"}}},
      {"mark": {"type": "line", "color": "#333", "strokeWidth": 1}, "encoding": {"x": {"field": "pop", "type": "nominal"}, "y": {"field": "mean", "type": "quantitative", "axis": null}}},
      {"data": {"values": [{}]}, "mark": {"type": "rule", "color": "#333", "strokeWidth": 1}, "encoding": {"y": {"datum": 0, "type": "quantitative", "axis": null}}},
      {"data": {"values": [{}]}, "mark": {"type": "rule", "color": "#333", "strokeWidth": 1}, "encoding": {"y": {"datum": 1000, "type": "quantitative", "axis": null}}},
      {"mark": {"type": "circle", "size": 90, "opacity": 1, "fill": "#ee0000", "stroke": "#000", "strokeWidth": 0.8}, "encoding": {"x": {"field": "pop", "type": "nominal"}, "y": {"field": "mean", "type": "quantitative", "axis": null}}}
    ]},
    {"width": 90.5, "height": 163.7, "transform": [{"filter": "datum.day == 'day 60' && datum.treatment == 'high MgCl2'"}],
     "title": {"text": "day 60", "orient": "right", "angle": -90, "anchor": "middle", "font": "Liberation Serif", "fontSize": 15, "fontWeight": "normal", "color": "#000", "offset": -12},
     "layer": [
      {"data": {"values": [{}]}, "mark": {"type": "rule", "color": "#7a7a7a", "strokeDash": [7, 4], "strokeWidth": 1}, "encoding": {"x": {"datum": "left", "type": "nominal", "scale": {"type": "point", "padding": 0, "domain": ["left", "naive", "P1", "P2", "right"]}}}},
      {"data": {"values": [{}]}, "mark": {"type": "rule", "color": "#333", "strokeWidth": 1}, "encoding": {"x": {"datum": "right", "type": "nominal"}}},
      {"mark": {"type": "rule", "color": "#555", "strokeWidth": 1.5}, "encoding": {"x": {"field": "pop", "type": "nominal", "axis": {"values": ["naive", "P1", "P2"], "labelAngle": 0, "domain": false, "labelBaseline": "top"}}, "y": {"field": "lo", "type": "quantitative", "scale": {"domain": [0, 1000], "nice": false}, "axis": null}, "y2": {"field": "hi"}}},
      {"mark": {"type": "line", "color": "#333", "strokeWidth": 1}, "encoding": {"x": {"field": "pop", "type": "nominal"}, "y": {"field": "mean", "type": "quantitative", "axis": null}}},
      {"data": {"values": [{}]}, "mark": {"type": "rule", "color": "#333", "strokeWidth": 1}, "encoding": {"y": {"datum": 0, "type": "quantitative", "axis": null}}},
      {"data": {"values": [{}]}, "mark": {"type": "rule", "color": "#333", "strokeWidth": 1}, "encoding": {"y": {"datum": 1000, "type": "quantitative", "axis": null}}},
      {"mark": {"type": "circle", "size": 90, "opacity": 1, "fill": "#ee0000", "stroke": "#000", "strokeWidth": 0.8}, "encoding": {"x": {"field": "pop", "type": "nominal"}, "y": {"field": "mean", "type": "quantitative", "axis": null}}}
    ]}
  ],
  "config": {
    "view": {"stroke": null},
    "font": "Liberation Serif",
    "axis": {"labelFont": "Liberation Serif", "labelFontSize": 15, "labelColor": "#000", "tickColor": "#333", "domainColor": "#333", "tickSize": 4, "labelPadding": 3, "grid": false, "title": null},
    "axisX": {"tickSize": 5, "labelPadding": 3, "labelFontSize": 14.5}
  }
}
